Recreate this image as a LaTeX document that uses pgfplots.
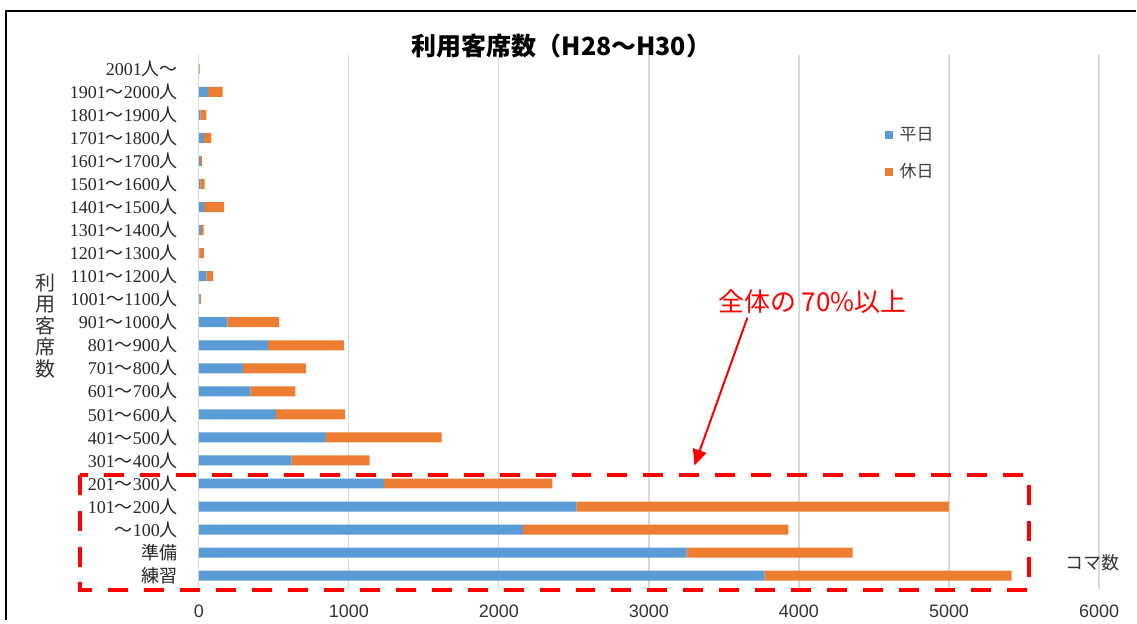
\documentclass[border=0pt]{standalone}
\usepackage{fontspec}
\setmainfont{Liberation Serif}
\newfontfamily\cjk{Noto Sans CJK JP}
\newfontfamily\narrow{Liberation Sans}
\usepackage{pgfplots}
\usepackage{pgfplotstable}
\pgfplotsset{compat=1.18}
\usetikzlibrary{arrows.meta}
\definecolor{cblue}{HTML}{5B9BD5}
\definecolor{corange}{HTML}{ED7D31}
\newcommand{\rng}[2]{#1{\cjk ～}#2{\cjk 人}}
\pgfplotstableread{
idx wd hd
0 3770 1648
1 3251 1106
2 2160 1770
3 2516 2483
4 1235 1122
5 618 521
6 846 773
7 513 460
8 344 300
9 295 418
10 462 504
11 191 344
12 5 8
13 50 45
14 3 30
15 15 17
16 33 136
17 10 28
18 8 12
19 33 51
20 12 39
21 62 96
22 2 3
}\datatable
\begin{document}
\begin{tikzpicture}
\begin{scope}[x=0.5pt,y=-0.5pt]
\useasboundingbox (0,0) rectangle (1137,621);
\fill[white] (0,0) rectangle (1137,621);
\end{scope}
\begin{axis}[
  at={(99.5pt,-295pt)}, anchor=south west,
  width=450.5pt, height=267.5pt, scale only axis,
  xbar stacked, bar width=5pt,
  xmin=0, xmax=6000, ymin=-0.6, ymax=22.6,
  xtick={0,1000,...,6000},
  scaled x ticks=false,
  /pgf/number format/1000 sep={},
  /pgf/number format/assume math mode=true,
  xmajorgrids, grid style={black!15, line width=0.6pt},
  axis line style={draw=none},
  tick style={draw=none}, major tick length=0pt,
  ytick={0,...,22},
  yticklabels={{\cjk 練習},{\cjk 準備},{\cjk ～}100{\cjk 人},\rng{101}{200},\rng{201}{300},\rng{301}{400},\rng{401}{500},\rng{501}{600},\rng{601}{700},\rng{701}{800},\rng{801}{900},\rng{901}{1000},\rng{1001}{1100},\rng{1101}{1200},\rng{1201}{1300},\rng{1301}{1400},\rng{1401}{1500},\rng{1501}{1600},\rng{1601}{1700},\rng{1701}{1800},\rng{1801}{1900},\rng{1901}{2000},2001{\cjk 人～}},
  yticklabel style={font=\fontsize{9}{10}\selectfont, color=black!85, xshift=-7pt},
  xticklabel style={font=\narrow\fontsize{9}{10}\selectfont, color=black!80, yshift=-4pt},
  legend style={at={(0.7614,0.8660)}, anchor=north west, draw=none, fill=none,
     font=\cjk\fontsize{8.5}{9}\selectfont, text=black!75,
     row sep=10pt, column sep=3.5pt, inner sep=0pt,
     nodes={inner sep=0pt, anchor=west}},
  legend cell align=left,
  legend image code/.code={\fill[#1,draw=none] (0pt,-2pt) rectangle (4pt,2pt);},
]
\addplot[fill=cblue, draw=none] table[x=wd,y=idx]{\datatable};
\addlegendentry{平日}
\addplot[fill=corange, draw=none] table[x=hd,y=idx]{\datatable};
\addlegendentry{休日}
\end{axis}
\begin{scope}[x=0.5pt,y=-0.5pt]
\draw[line width=1pt] (6,621) -- (6,11) -- (1137,11);
\node[font=\cjk\bfseries\fontsize{12.5}{13}\selectfont] at (562,46) {利用客席数（H28～H30）};
\node[font=\cjk\fontsize{10}{10.75}\selectfont, align=center, text=black!80] at (46,326) {利\\用\\客\\席\\数};
\node[font=\cjk\fontsize{9}{10}\selectfont, text=black!80] at (1093,563) {コマ数};
\node[font=\cjk\fontsize{13}{14}\selectfont, text=red] at (813,302) {全体の 70\%以上};
\draw[red, line width=1pt, -{Triangle[length=8pt,width=7pt]}] (748,318) -- (695,466);
\draw[red, line width=2pt, dash pattern=on 10pt off 8pt] (80,475) rectangle (1030,591);
\end{scope}
\end{tikzpicture}
\end{document}
